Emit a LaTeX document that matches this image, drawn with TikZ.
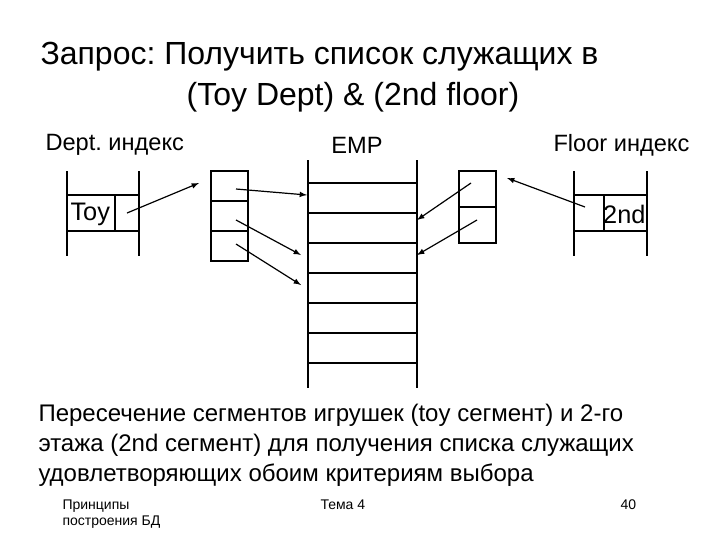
\documentclass[tikz,border=0pt]{standalone}
\usepackage{fontspec}
\setmainfont{Liberation Sans}
\frenchspacing
\begin{document}
\begin{tikzpicture}[x=0.75pt,y=-0.75pt,line width=0.8pt,
  arr/.style={-latex,line width=0.9pt},
  lab/.style={inner sep=0,anchor=west,font=\fontsize{17.7}{20}\selectfont},
  big/.style={inner sep=0,anchor=west,font=\fontsize{19}{22}\selectfont},
  para/.style={inner sep=0,anchor=north west,align=left,font=\fontsize{18}{22.5}\selectfont},
  foot/.style={inner sep=0,anchor=north west,align=left,font=\fontsize{10.5}{12}\selectfont}]
\useasboundingbox (0,0) rectangle (720,540);
\node[lab,anchor=west,font=\fontsize{24}{28}\selectfont] (t1) at (40,57) {Запрос: Получить список служащих в};
\node[inner sep=0,font=\fontsize{24}{28}\selectfont] (t2) at (353,97) {(Toy Dept) \& (2nd floor)};
\node[lab] (dl) at (45,145) {Dept. индекс};
\node[inner sep=0,font=\fontsize{17.7}{20}\selectfont] (el) at (357,145) {EMP};
\node[lab] (fl) at (553,145) {Floor индекс};
% Dept index
\draw (67,171) -- (67,256) (139,171) -- (139,256);
\draw (67,195) -- (139,195) (67,231) -- (139,231) (115,195) -- (115,231);
\node[big] (toy) at (70,214) {Toy};
\coordinate (toyp) at (127,213);
% floor index
\draw (574,171) -- (574,256) (647,171) -- (647,256);
\draw (574,195) -- (647,195) (574,231) -- (647,231) (604,195) -- (604,231);
\node[big,anchor=east] (nd) at (646,214) {2nd};
\coordinate (ndp) at (585,207);
% dept segment
\draw (211,171) rectangle (248,261);
\draw (211,201) -- (248,201) (211,231) -- (248,231);
\coordinate (s1) at (236,189); \coordinate (s2) at (236,220); \coordinate (s3) at (236,244);
\coordinate (sin) at (199,183);
% floor segment
\draw (459,171) rectangle (496,243);
\draw (459,207) -- (496,207);
\coordinate (f1) at (471,183); \coordinate (f2) at (477,220);
\coordinate (fin) at (507,178);
% EMP
\draw (308,160) -- (308,388) (417,160) -- (417,388);
\foreach \y in {183,213,243,273,303,333,363} \draw (308,\y) -- (417,\y);
\coordinate (e1) at (307,195); \coordinate (e2) at (301,255); \coordinate (e3) at (301,285);
\coordinate (e4) at (417,220); \coordinate (e5) at (417,255);
\draw[arr] (toyp) -- (sin);
\draw[arr] (s1) -- (e1);
\draw[arr] (s2) -- (e2);
\draw[arr] (s3) -- (e3);
\draw[arr] (f1) -- (e4);
\draw[arr] (f2) -- (e5);
\draw[arr] (ndp) -- (fin);
\node[para] (p) at (38,404) {Пересечение сегментов игрушек (toy сегмент) и 2-го\\этажа (2nd сегмент) для получения списка служащих\\удовлетворяющих обоим критериям выбора};
\node[foot] (fa) at (62,499) {Принципы\\построения БД};
\node[foot] (fb) at (320,499) {Тема 4};
\node[foot] (fc) at (620,499) {40};
\end{tikzpicture}
\end{document}
